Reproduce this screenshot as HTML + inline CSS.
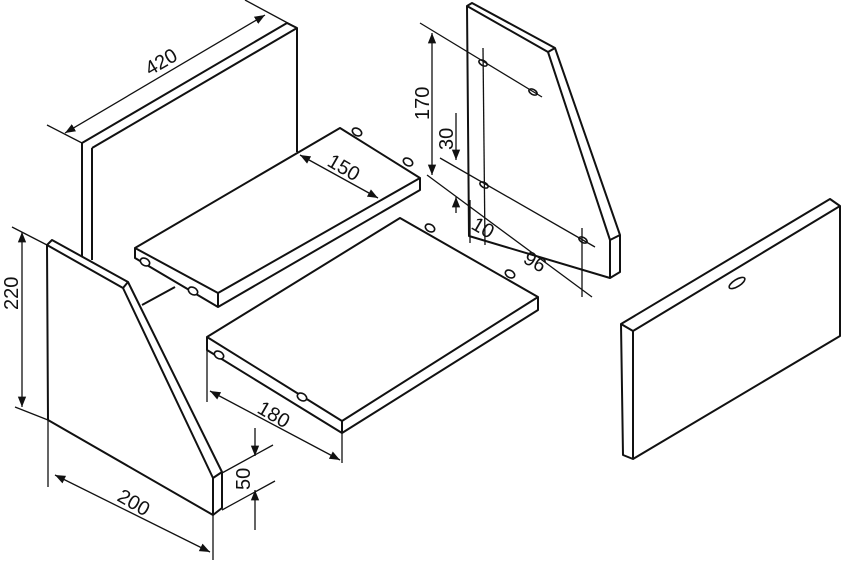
<!DOCTYPE html>
<html><head><style>
html,body{margin:0;padding:0;background:#fff;}
svg{display:block;}
text{font-family:"Liberation Sans",sans-serif;font-size:20px;fill:#111;}
</style></head><body>
<svg width="850" height="562" viewBox="0 0 850 562" xmlns="http://www.w3.org/2000/svg">
<defs>
<marker id="a" viewBox="0 0 10 10" refX="10" refY="5" markerWidth="8" markerHeight="8" orient="auto-start-reverse"><path d="M0,1 L10,5 L0,9 z" fill="#111"/></marker>
</defs>
<g stroke="#111" stroke-width="2" fill="none" stroke-linejoin="round">
<polyline points="82,260 82,143 287,23 297,28 297,152"/>
<line x1="92" y1="148" x2="297" y2="28"/>
<line x1="92" y1="148" x2="92" y2="260"/>
<polygon points="135,248 340,128 420,178 218,293" fill="#fff"/>
<polyline points="135,248 135,258 218,307 420,190 420,178"/>
<line x1="218" y1="293" x2="218" y2="307"/>
<polygon points="207,337 400,218 538,297 342,421" fill="#fff"/>
<polyline points="207,337 207,350 342,433 538,310 538,297"/>
<line x1="342" y1="421" x2="342" y2="433"/>
<line x1="142" y1="305" x2="175" y2="287"/>
<polygon points="47,245 52,240 128,282 222,472 222,508 213,515 48,420" fill="#fff"/>
<polyline points="47,245 123,288 213,478 213,515"/>
<line x1="213" y1="478" x2="222" y2="472"/>
<line x1="123" y1="288" x2="128" y2="282"/>
<polygon points="467,6 472,3 555,48 620,235 620,272 610,278 469,236" fill="#fff"/>
<polyline points="467,6 548,52 610,240 610,278"/>
<line x1="610" y1="240" x2="620" y2="235"/>
<line x1="548" y1="52" x2="555" y2="48"/>
<polygon points="621,324 830,199 840,206 840,336 633,459 623,455" fill="#fff"/>
<polyline points="621,324 633,331 840,206"/>
<line x1="633" y1="331" x2="633" y2="459"/>
</g>
<g stroke="#111" stroke-width="1.6" fill="#fff">
<ellipse cx="145" cy="262" rx="5" ry="3.5" transform="rotate(30 145 262)"/>
<ellipse cx="193" cy="291" rx="5" ry="3.5" transform="rotate(30 193 291)"/>
<ellipse cx="357" cy="132" rx="5" ry="3.5" transform="rotate(30 357 132)"/>
<ellipse cx="408" cy="162" rx="5" ry="3.5" transform="rotate(30 408 162)"/>
<ellipse cx="219" cy="355" rx="5" ry="3.5" transform="rotate(30 219 355)"/>
<ellipse cx="302" cy="397" rx="5" ry="3.5" transform="rotate(30 302 397)"/>
<ellipse cx="430" cy="228" rx="5" ry="3.5" transform="rotate(30 430 228)"/>
<ellipse cx="510" cy="274" rx="5" ry="3.5" transform="rotate(30 510 274)"/>
<ellipse cx="483" cy="63" rx="4.5" ry="2.5" transform="rotate(30 483 63)"/>
<ellipse cx="533" cy="92" rx="4.5" ry="2.5" transform="rotate(30 533 92)"/>
<ellipse cx="484" cy="185" rx="4.5" ry="2.5" transform="rotate(30 484 185)"/>
<ellipse cx="583" cy="240" rx="4.5" ry="2.5" transform="rotate(30 583 240)"/>
<ellipse cx="737" cy="283" rx="9" ry="3.5" transform="rotate(-32 737 283)"/>
</g>
<g stroke="#111" stroke-width="1.3" fill="none">
<line x1="47" y1="125" x2="82" y2="143"/>
<line x1="245" y1="0" x2="297" y2="28"/>
<line x1="65" y1="133" x2="265" y2="15" marker-start="url(#a)" marker-end="url(#a)"/>
<line x1="300" y1="155" x2="378" y2="198" marker-start="url(#a)" marker-end="url(#a)"/>
<line x1="12" y1="227" x2="47" y2="245"/>
<line x1="15" y1="407" x2="48" y2="420"/>
<line x1="22" y1="232" x2="22" y2="407" marker-start="url(#a)" marker-end="url(#a)"/>
<line x1="48" y1="420" x2="48" y2="487"/>
<line x1="213" y1="515" x2="213" y2="560"/>
<line x1="55" y1="475" x2="210" y2="552" marker-start="url(#a)" marker-end="url(#a)"/>
<line x1="222" y1="473" x2="273" y2="445"/>
<line x1="222" y1="510" x2="275" y2="481"/>
<line x1="255" y1="428" x2="255" y2="456" marker-end="url(#a)"/>
<line x1="255" y1="530" x2="255" y2="490" marker-end="url(#a)"/>
<line x1="207" y1="350" x2="207" y2="402"/>
<line x1="342" y1="433" x2="342" y2="463"/>
<line x1="210" y1="391" x2="340" y2="460" marker-start="url(#a)" marker-end="url(#a)"/>
<line x1="420" y1="23" x2="542" y2="97"/>
<line x1="440" y1="158" x2="595" y2="247"/>
<line x1="427" y1="175" x2="592" y2="297"/>
<line x1="483" y1="48" x2="485" y2="245"/>
<line x1="470" y1="200" x2="470" y2="243"/>
<line x1="432" y1="33" x2="432" y2="175" marker-start="url(#a)" marker-end="url(#a)"/>
<line x1="456" y1="113" x2="456" y2="160" marker-end="url(#a)"/>
<line x1="456" y1="213" x2="456" y2="197" marker-end="url(#a)"/>
<line x1="582" y1="228" x2="582" y2="297"/>
</g>
<g>
<text transform="translate(150,76) rotate(-30)">420</text>
<text transform="translate(326,165) rotate(30)">150</text>
<text transform="translate(18,310) rotate(-90)">220</text>
<text transform="translate(116,500) rotate(30)">200</text>
<text transform="translate(250,490) rotate(-90)">50</text>
<text transform="translate(256,412) rotate(30)">180</text>
<text transform="translate(429,120) rotate(-90)">170</text>
<text transform="translate(453,150) rotate(-90)">30</text>
<text transform="translate(470,228) rotate(30)">10</text>
<text transform="translate(522,262) rotate(30)">96</text>
</g>
</svg>
</body></html>
